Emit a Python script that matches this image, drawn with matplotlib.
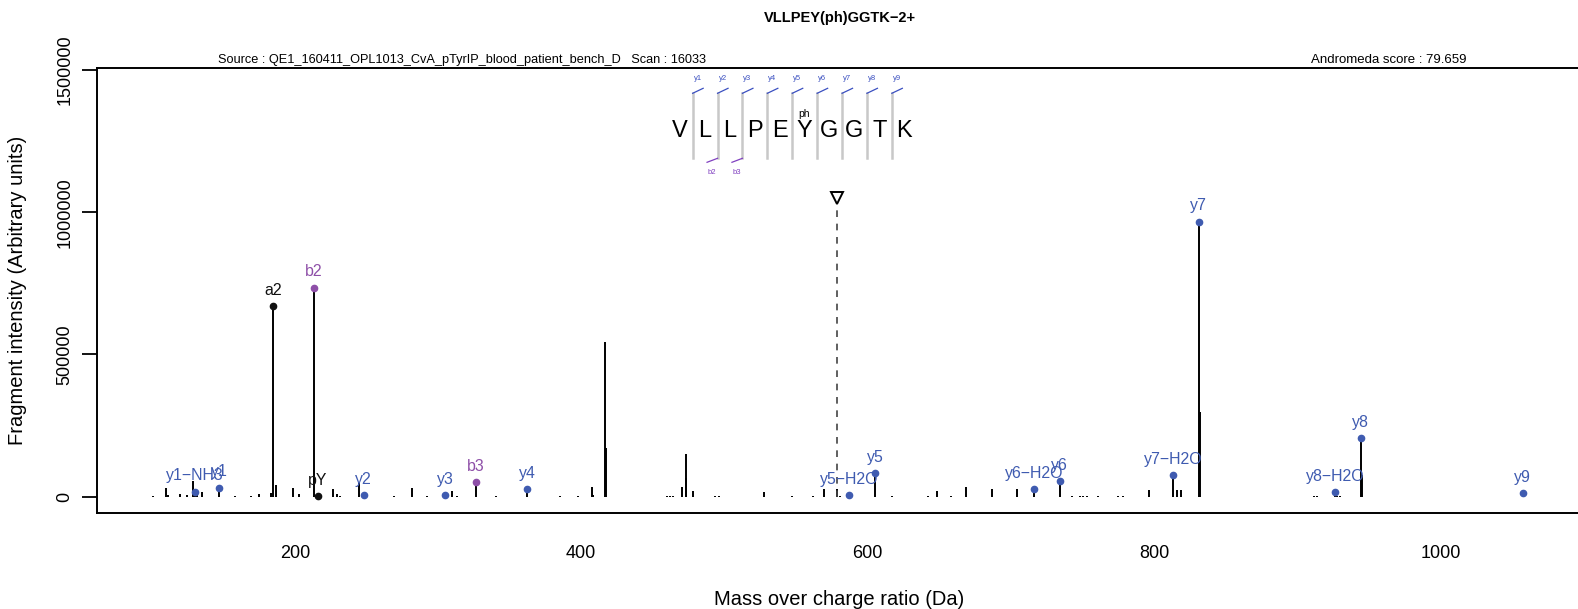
import numpy as np
import matplotlib
matplotlib.use('Agg')
import matplotlib.pyplot as plt

plt.rcParams['font.family'] = ['Liberation Sans', 'DejaVu Sans']

# unannotated fragment peaks (m/z, intensity)
peak_mz = [100.8, 109.8, 111.7, 119.8, 124.9, 128.9, 131.5, 135.4, 158.0, 169.4,
           175.2, 183.2, 186.7, 199.0, 202.9, 226.9, 229.3, 231.6, 244.8, 269.5,
           281.6, 292.1, 309.6, 313.1, 340.3, 385.2, 398.0, 407.5, 408.6, 416.6,
           417.1, 459.7, 462.0, 464.3, 470.6, 473.0, 473.5, 478.3, 493.4, 496.4,
           527.9, 547.2, 562.1, 569.6, 578.8, 580.7, 617.4, 642.4, 648.5, 658.2,
           668.7, 686.7, 704.5, 743.0, 748.3, 750.6, 753.0, 761.2, 774.9, 778.6,
           796.2, 816.3, 818.7, 832.0, 911.7, 913.5, 927.8, 929.9, 945.0]
peak_int = [2000, 32000, 5000, 8000, 5000, 55000, 8000, 18000, 2500, 2500,
            8000, 12000, 40000, 30000, 10000, 27000, 8000, 3000, 48000, 2500,
            29000, 2500, 20000, 2500, 2500, 2500, 2500, 33000, 6000, 543000,
            171000, 2500, 2500, 3500, 34000, 150000, 66000, 21000, 4000, 4000,
            17000, 2500, 2500, 26000, 27000, 4000, 2500, 2500, 20000, 2500,
            33000, 27000, 27000, 3000, 3000, 3000, 3000, 2500, 2500, 3000,
            23000, 23000, 23000, 297000, 3000, 3000, 3500, 4000, 76000]

# annotated ions
ion_names = ['y1\u2212NH3', 'y1', 'a2', 'b2', 'pY', 'y2', 'y3', 'b3', 'y4',
             'y5\u2212H2O', 'y5', 'y6\u2212H2O', 'y6', 'y7\u2212H2O', 'y7',
             'y8\u2212H2O', 'y8', 'y9']
ion_mz = [130.09, 147.11, 185.12, 213.16, 216.04, 248.16, 305.18, 326.24, 362.20,
          587.22, 605.23, 716.27, 734.28, 813.32, 831.33, 926.40, 944.41, 1057.50]
ion_int = [17000, 32000, 670000, 735000, 2500, 5000, 5000, 51700, 27000,
           5000, 82000, 27000, 54000, 76000, 967000, 15000, 205000, 12000]
ion_kind = ['y', 'y', 'a', 'b', 'i', 'y', 'y', 'b', 'y',
            'y', 'y', 'y', 'y', 'y', 'y', 'y', 'y', 'y']

precursor_mz = 578.79
precursor_int = 1050000

sequence = 'VLLPEYGGTK'
b_marks = [2, 3]

colors = {'y': '#3f5bb0', 'b': '#8e4fa8', 'a': '#111111', 'i': '#111111'}

W, H = 1578, 609
fig = plt.figure(figsize=(W / 100, H / 100), dpi=100)
ax = fig.add_axes([97 / W, 1 - 513 / H, (1582 - 97) / W, (513 - 68.3) / H])

def px(x, y):
    return x / W, 1 - y / H

ax.vlines(peak_mz, 0, peak_int, color='black', lw=1.4)
ax.vlines(ion_mz, 0, ion_int, color='black', lw=1.4)
for name, m, v, k in zip(ion_names, ion_mz, ion_int, ion_kind):
    c = colors[k]
    ax.plot(m, v, 'o', color=c, ms=4.5, zorder=3)
    ax.annotate(name, (m, v), xytext=(0, 11.5), textcoords='offset points',
                ha='center', va='center', fontsize=11.4, color=c)

# precursor
ax.vlines(precursor_mz, 0, precursor_int - 28000, color='#444444', lw=1.2,
          linestyles=(0, (4, 4)))
ax.plot(precursor_mz, precursor_int, 'v', ms=9, mfc='white', mec='black', mew=1.4)

ax.set_xlim(61.9, 1098.9)
ax.set_ylim(-57300, 1506300)
ax.set_xticks([200, 400, 600, 800, 1000])
ax.set_yticks([0, 500000, 1000000, 1500000])
ax.set_yticklabels(['0', '500000', '1000000', '1500000'], rotation=90, va='center')
ax.tick_params(axis='x', length=0, pad=23, labelsize=13)
ax.tick_params(axis='y', length=11, width=1.3, pad=6, labelsize=13)
for s in ax.spines.values():
    s.set_linewidth(1.4)
ax.set_xlabel('Mass over charge ratio (Da)', fontsize=14.5, labelpad=20)
ax.set_ylabel('Fragment intensity (Arbitrary units)', fontsize=14.5, labelpad=21)

fig.text(*px(839.5, 18), 'VLLPEY(ph)GGTK\u22122+', ha='center', va='center',
         fontsize=10.5, fontweight='bold')
fig.text(*px(462, 60), 'Source : QE1_160411_OPL1013_CvA_pTyrIP_blood_patient_bench_D   Scan : 16033',
         ha='center', va='center', fontsize=9.2)
fig.text(*px(1389, 60), 'Andromeda score : 79.659', ha='center', va='center', fontsize=9.5)

# sequence diagram
step = 24.9
x0 = 680
for i, aa in enumerate(sequence):
    fig.text(*px(x0 + i * step, 131), aa, ha='center', va='center', fontsize=17)
    if aa == 'Y':
        fig.text(*px(x0 + i * step, 114), 'ph', ha='center', va='center', fontsize=7.5)
for i in range(len(sequence) - 1):
    sx = x0 + step / 2 + i * step + 0.2
    a, b = px(sx, 93.3), px(sx, 158.3)
    fig.add_artist(plt.Line2D([a[0], b[0]], [a[1], b[1]], color='#c8c8c8', lw=1.8))
    p, q = px(sx, 93.3), px(sx + 10.5, 88.3)
    fig.add_artist(plt.Line2D([p[0], q[0]], [p[1], q[1]], color='#3a4fc0', lw=0.9))
    fig.text(*px(sx + 5, 78.3), 'y%d' % (i + 1), ha='center', va='center',
             fontsize=5.5, color='#3a4fc0')
    if i + 1 in b_marks:
        p, q = px(sx, 158.3), px(sx - 10.5, 162.3)
        fig.add_artist(plt.Line2D([p[0], q[0]], [p[1], q[1]], color='#8040c0', lw=0.9))
        fig.text(*px(sx - 5.5, 172.3), 'b%d' % (i + 1), ha='center', va='center',
                 fontsize=5.5, color='#8040c0')

fig.savefig('out.png', dpi=100)
